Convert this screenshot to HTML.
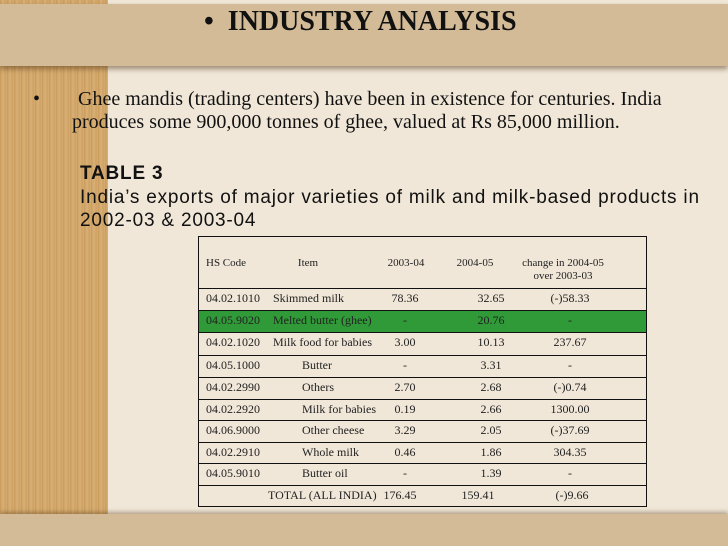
<!DOCTYPE html>
<html><head><meta charset="utf-8"><style>
body{margin:0;width:728px;height:546px;overflow:hidden;position:relative;background:#f0e7d8;font-family:"Liberation Serif",serif}
.a{position:absolute;white-space:nowrap}
.t{font-size:12px;color:#222}
.hl{position:absolute;left:198px;width:449px;height:1px;background:#111}
</style></head><body>
<div class="a" style="left:0;top:0;width:108px;height:546px;background:repeating-linear-gradient(90deg,#c99a5a 0,#d9b27a 3px,#cfa262 5px,#d6ac70 7px)"></div>
<div class="a" style="left:0;top:4px;width:728px;height:62px;background:#d3bb97;box-shadow:0 3px 5px rgba(80,50,20,.5)"></div>
<div class="a" style="left:0;top:514px;width:728px;height:32px;background:#d3bb97;box-shadow:0 -2px 4px rgba(80,50,20,.4)"></div>
<div class="a" style="left:204px;top:6px;font-size:28px;font-weight:bold;color:#111">•&nbsp;&nbsp;INDUSTRY ANALYSIS</div>
<div class="a" style="left:33px;top:88px;font-size:20px;line-height:23px;color:#111"><span style="position:absolute;left:0">•</span><span style="padding-left:45px">Ghee mandis (trading centers) have been in existence for centuries. India</span><br><span style="padding-left:39px">produces some 900,000 tonnes of ghee, valued at Rs 85,000 million.</span></div>
<div class="a" style="left:80px;top:162px;font-family:'Liberation Sans',sans-serif;font-size:19px;line-height:23.5px;color:#111;letter-spacing:0.8px"><b>TABLE 3</b><br>India’s exports of major varieties of milk and milk-based products in<br>2002-03 &amp; 2003-04</div>
<div class="a" style="left:198px;top:236px;width:447px;height:269px;border:1px solid #111"></div>
<div class="a" style="left:199px;top:311px;width:447px;height:21px;background:#2f9a37"></div>
<div id="rows"></div>
<script>
const codes=["04.02.1010","04.05.9020","04.02.1020","04.05.1000","04.02.2990","04.02.2920","04.06.9000","04.02.2910","04.05.9010"];
const items=["Skimmed milk","Melted butter (ghee)","Milk food for babies","Butter","Others","Milk for babies","Other cheese","Whole milk","Butter oil"];
const v0304=["78.36","-","3.00","-","2.70","0.19","3.29","0.46","-"];
const v0405=["32.65","20.76","10.13","3.31","2.68","2.66","2.05","1.86","1.39"];
const chg=["(-)58.33","-","237.67","-","(-)0.74","1300.00","(-)37.69","304.35","-"];
const lines=[288,310,332,355,377,399,420,442,463,485];
const R=document.getElementById('rows');
function txt(x,y,s,center,fs){const d=document.createElement('div');d.className='a t';


d.style.left=x+'px';d.style.top=y+'px';if(fs)d.style.fontSize=fs+'px';if(center)d.style.transform='translateX(-50%)';d.textContent=s;R.appendChild(d);}
lines.forEach(y=>{const l=document.createElement('div');l.className='hl';l.style.top=y+'px';


R.appendChild(l);});
txt(206,257,"HS Code",false,11);txt(308,257,"Item",true,11);txt(406,257,"2003-04",true,11);txt(475,257,"2004-05",true,11);
txt(563,257,"change in 2004-05",true,11);txt(563,270,"over 2003-03",true,11);
const indent=[0,0,0,1,1,1,1,1,1];
codes.forEach((c,i)=>{const y=lines[i]+3;
txt(206,y,c);txt(indent[i]?302:273,y,items[i]);
txt(405,y,v0304[i],true);txt(491,y,v0405[i],true);txt(570,y,chg[i],true);});
txt(268,488,"TOTAL (ALL INDIA)");txt(400,488,"176.45",true);txt(478,488,"159.41",true);txt(572,488,"(-)9.66",true);
</script>
</body></html>
